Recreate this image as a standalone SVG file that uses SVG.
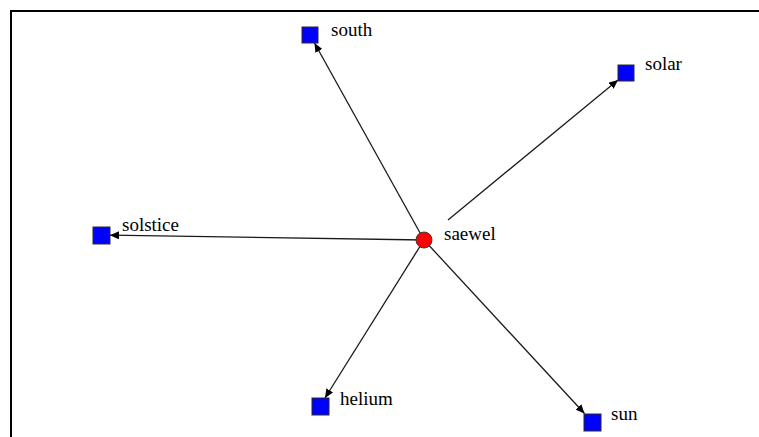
<svg xmlns="http://www.w3.org/2000/svg" width="759" height="437" viewBox="0 0 759 437">
<style>
.sq{fill:#0000ff;stroke:#2a2a2a;stroke-width:1}
.lbl{font-family:"Times New Roman",Times,"Liberation Serif","DejaVu Serif",serif;font-size:19px;fill:#000}
.edge{stroke:#1a1a1a;stroke-width:1.3;fill:none;marker-end:url(#arr)}
</style>
<defs>
<marker id="arr" markerUnits="userSpaceOnUse" markerWidth="10" markerHeight="8" refX="9" refY="4" orient="auto">
<path d="M0,0 L9,4 L0,8 Z" fill="#000"/>
</marker>
</defs>
<rect width="759" height="437" fill="#fff"/>
<path d="M11,437 V11 H759" fill="none" stroke="#000" stroke-width="2"/>
<g id="connectors">
<line class="edge" x1="424" y1="240" x2="314.5" y2="43"/>
<line class="edge" x1="448" y1="220" x2="618" y2="80"/>
<line class="edge" x1="424" y1="240" x2="110" y2="235.2"/>
<line class="edge" x1="424" y1="240" x2="325" y2="398"/>
<line class="edge" x1="424" y1="240" x2="584.5" y2="413.5"/>
</g>
<g id="south"><rect class="sq" x="302" y="27" width="16" height="16"/><text class="lbl" x="331" y="36">south</text></g>
<g id="solar"><rect class="sq" x="618" y="65" width="16" height="16"/><text class="lbl" x="645" y="70">solar</text></g>
<g id="solstice"><rect class="sq" x="93" y="227" width="17" height="17"/><text class="lbl" x="122" y="231">solstice</text></g>
<g id="helium"><rect class="sq" x="312" y="398" width="17" height="17"/><text class="lbl" x="340" y="405">helium</text></g>
<g id="sun"><rect class="sq" x="584" y="414" width="17" height="17"/><text class="lbl" x="611" y="420">sun</text></g>
<g id="saewel"><circle cx="424" cy="240" r="8" fill="#ff0000" stroke="#3a3a3a" stroke-width="1"/><text class="lbl" x="444" y="240">saewel</text></g>
</svg>
